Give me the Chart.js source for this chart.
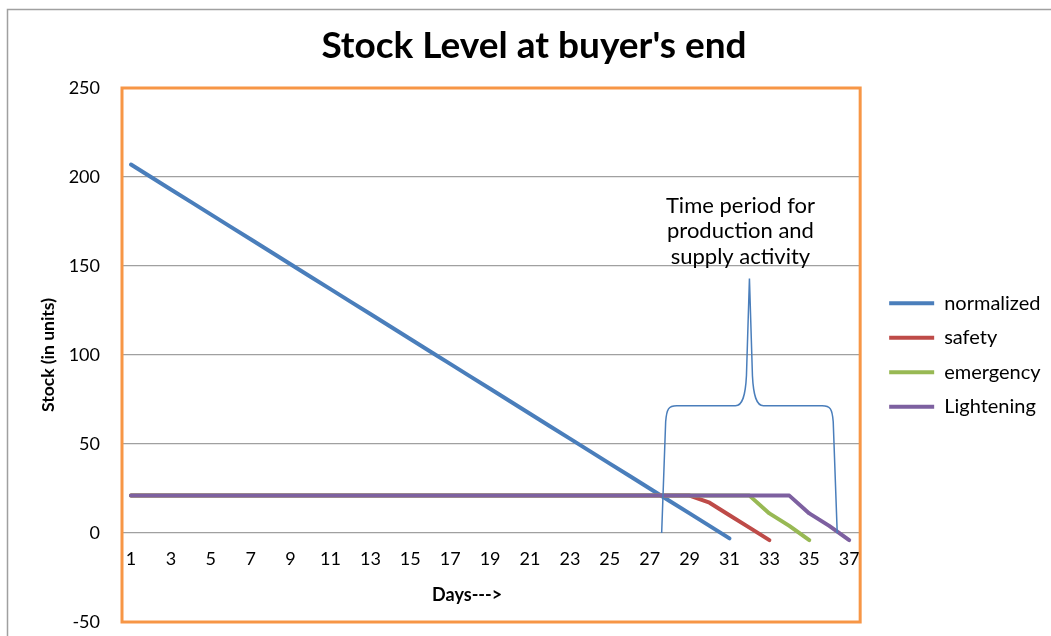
<!DOCTYPE html>
<html>
<head>
<meta charset="utf-8">
<script src="https://cdn.jsdelivr.net/npm/chart.js@4.4.1/dist/chart.umd.min.js"></script>
<style>
  html, body { margin: 0; padding: 0; background: #fff; }
  #wrap { width: 1051px; height: 636px; }
</style>
</head>
<body>
<div id="wrap"><canvas id="chart-area" width="1051" height="636"></canvas></div>
<script>
// days on the x axis
var days = ['1','2','3','4','5','6','7','8','9','10','11','12','13','14','15','16','17','18','19',
            '20','21','22','23','24','25','26','27','28','29','30','31','32','33','34','35','36','37'];

// stock levels
var normalized = [207, 200, 193, 186, 179, 172, 165, 158, 151, 144, 137, 130, 123, 116, 109, 102,
                  95, 88, 81, 74, 67, 60, 53, 46, 39, 32, 25, 18, 11, 4, -3];
var safety = [21, 21, 21, 21, 21, 21, 21, 21, 21, 21, 21, 21, 21, 21, 21, 21, 21, 21, 21, 21,
              21, 21, 21, 21, 21, 21, 21, 21, 21, 17, 10, 3, -4];
var emergency = [21, 21, 21, 21, 21, 21, 21, 21, 21, 21, 21, 21, 21, 21, 21, 21, 21, 21, 21, 21,
                 21, 21, 21, 21, 21, 21, 21, 21, 21, 21, 21, 21, 11, 4, -4];
var lightening = [21, 21, 21, 21, 21, 21, 21, 21, 21, 21, 21, 21, 21, 21, 21, 21, 21, 21, 21, 21,
                  21, 21, 21, 21, 21, 21, 21, 21, 21, 21, 21, 21, 21, 21, 11, 4, -4];

var yTicks = [-50, 0, 50, 100, 150, 200, 250];

// brace over the production / supply window (x as day index, y as stock value)
var braceFrom = 26.6, braceTo = 35.4, braceMid = 71.5, bracePeak = 143;
var noteLines = ['Time period for', 'production and', 'supply activity'];

var FONT = 'Lato, "DejaVu Sans", sans-serif';
Chart.defaults.font.family = FONT;
Chart.defaults.color = '#000';

var colors = {
    blue: '#4a7ebb',
    red: '#be4b48',
    green: '#98b954',
    purple: '#7d60a0',
    orange: '#f79646',
    grid: '#a0a0a0'
};

function line(label, data, color, order) {
    return {
        label: label,
        data: data,
        borderColor: color,
        backgroundColor: color,
        borderWidth: 4,
        borderCapStyle: 'round',
        borderJoinStyle: 'round',
        pointRadius: 0,
        pointHoverRadius: 0,
        tension: 0,
        fill: false,
        order: order
    };
}

var decorations = {
    id: 'decorations',
    beforeDraw: function (chart) {
        var ctx = chart.ctx;
        ctx.save();
        ctx.strokeStyle = '#a0a0a0';
        ctx.lineWidth = 1.5;
        ctx.strokeRect(7.5, 9.5, chart.width + 20, chart.height + 20);
        ctx.restore();
    },
    afterDatasetsDraw: function (chart) {
        var ctx = chart.ctx;
        var xs = chart.scales.x, ys = chart.scales.y;
        var a = chart.chartArea;

        // brace
        var xl = xs.getPixelForValue(braceFrom);
        var xr = xs.getPixelForValue(braceTo);
        var xc = (xl + xr) / 2;
        var y0 = ys.getPixelForValue(0);
        var ym = ys.getPixelForValue(braceMid);
        var yp = ys.getPixelForValue(bracePeak);
        ctx.save();
        ctx.strokeStyle = colors.blue;
        ctx.lineWidth = 1.5;
        ctx.beginPath();
        ctx.moveTo(xl, y0);
        ctx.lineTo(xl + 4, ym + 16);
        ctx.bezierCurveTo(xl + 5, ym + 3, xl + 7, ym, xl + 15, ym);
        ctx.lineTo(xc - 14, ym);
        ctx.bezierCurveTo(xc - 7, ym, xc - 4, ym - 10, xc - 3, ym - 30);
        ctx.lineTo(xc, yp);
        ctx.lineTo(xc + 3, ym - 30);
        ctx.bezierCurveTo(xc + 4, ym - 10, xc + 7, ym, xc + 14, ym);
        ctx.lineTo(xr - 15, ym);
        ctx.bezierCurveTo(xr - 7, ym, xr - 5, ym + 3, xr - 4, ym + 16);
        ctx.lineTo(xr, y0);
        ctx.stroke();

        // note text
        ctx.fillStyle = '#000';
        ctx.font = '22px ' + FONT;
        ctx.textAlign = 'center';
        ctx.textBaseline = 'middle';
        var tx = xs.getPixelForValue(30.55);
        var ty = ys.getPixelForValue(184);
        for (var i = 0; i < noteLines.length; i++) {
            ctx.fillText(noteLines[i], tx, ty + i * 25.5);
        }

        // x axis title
        ctx.font = 'bold 18px ' + FONT;
        ctx.fillText('Days--->', xs.getPixelForValue(16.85), ys.getPixelForValue(-34.7));

        // plot area border
        ctx.strokeStyle = colors.orange;
        ctx.lineWidth = 3;
        ctx.strokeRect(a.left + 1, a.top, a.right - a.left, a.bottom - a.top);
        ctx.restore();
    }
};

var config = {
    type: 'line',
    data: {
        labels: days,
        datasets: [
            line('normalized', normalized, colors.blue, 3),
            line('safety', safety, colors.red, 2),
            line('emergency', emergency, colors.green, 1),
            line('Lightening', lightening, colors.purple, 0)
        ]
    },
    options: {
        responsive: false,
        animation: false,
        devicePixelRatio: 1,
        layout: { padding: { left: 23, right: 6, top: 0, bottom: 14 } },
        plugins: {
            title: {
                display: true,
                text: "Stock Level at buyer's end",
                color: '#000',
                font: { size: 37, weight: 'bold' },
                padding: { top: 23.5, bottom: 20.1 }
            },
            legend: {
                position: 'right',
                fullSize: false,
                labels: {
                    usePointStyle: true,
                    pointStyle: 'line',
                    pointStyleWidth: 45,
                    padding: 14.5,
                    color: '#000',
                    font: { size: 20 },
                    sort: function (a, b) { return a.datasetIndex - b.datasetIndex; }
                }
            },
            tooltip: { enabled: false }
        },
        scales: {
            x: {
                type: 'category',
                offset: true,
                position: { y: 0 },
                grid: { display: false, drawTicks: false },
                border: { display: false },
                ticks: {
                    autoSkip: false,
                    maxRotation: 0,
                    padding: 15,
                    color: '#000',
                    font: { size: 18 },
                    callback: function (v, i) { return i % 2 === 0 ? this.getLabelForValue(v) : ''; }
                }
            },
            y: {
                min: -50,
                max: 250,
                afterBuildTicks: function (s) { s.ticks = yTicks.map(function (v) { return { value: v }; }); },
                grid: { color: colors.grid, lineWidth: 1.2, drawTicks: true, tickLength: 21, tickColor: 'rgba(0,0,0,0)' },
                border: { display: false },
                ticks: { padding: 0, color: '#000', font: { size: 18 } },
                title: {
                    display: true,
                    text: 'Stock (in units)',
                    color: '#000',
                    font: { size: 17.5, weight: 'bold' },
                    padding: { top: 14.5, bottom: 0 }
                },
                afterFit: function (s) { s.width = 98; }
            },
            gap: {
                type: 'linear',
                position: 'right',
                display: true,
                grid: { display: false, drawTicks: false },
                border: { display: false },
                ticks: { display: false },
                afterFit: function (s) { s.width = 15.5; }
            }
        }
    },
    plugins: [decorations]
};

var canvas = document.getElementById("chart-area").getContext("2d");
var chart = new Chart(canvas, config);
</script>
</body>
</html>
